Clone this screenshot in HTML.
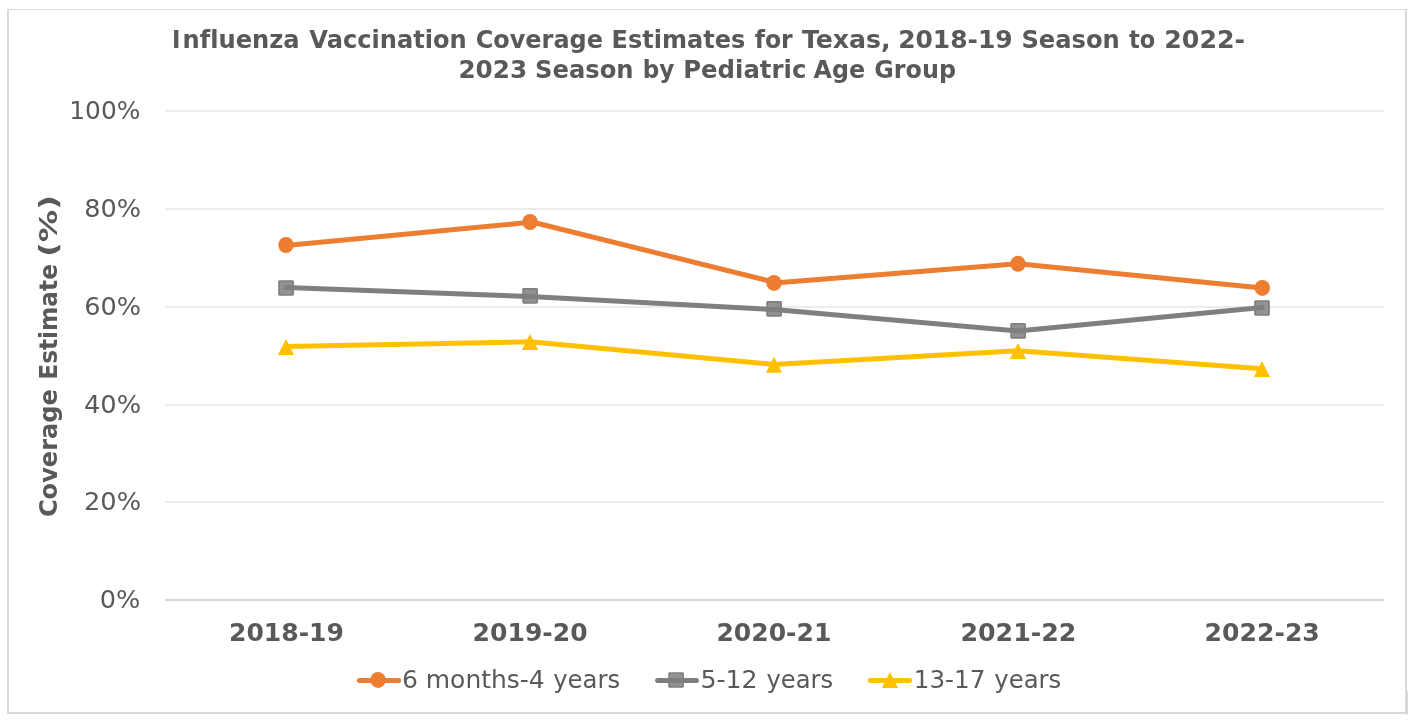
<!DOCTYPE html>
<html lang="en">
<head>
<meta charset="utf-8">
<title>Influenza Vaccination Coverage Estimates for Texas</title>
<style>
  html, body { margin: 0; padding: 0; background: #ffffff; }
  body { width: 1413px; height: 720px; overflow: hidden; }
  svg { display: block; }
  text { font-family: "DejaVu Sans", "Liberation Sans", sans-serif; fill: #595959; font-variant-ligatures: none; font-feature-settings: "liga" 0, "clig" 0; white-space: pre; }
  .b { font-weight: bold; }
</style>
</head>
<body>
<svg width="1413" height="720" viewBox="0 0 1413 720">
  <rect x="0" y="0" width="1413" height="720" fill="#ffffff"/>

  <!-- chart frame -->
  <g fill="#d9d9d9" shape-rendering="crispEdges">
    <rect x="7" y="9" width="1400" height="1"/>
    <rect x="7" y="9" width="2" height="705"/>
    <rect x="1405" y="9" width="2" height="705"/>
    <rect x="7" y="712" width="1400" height="2"/>
    <rect x="1407" y="691" width="1" height="24"/>
  </g>

  <!-- gridlines -->
  <g fill="#ececec" shape-rendering="crispEdges">
    <rect x="165" y="110" width="1219" height="2"/>
    <rect x="165" y="208" width="1219" height="2"/>
    <rect x="165" y="306" width="1219" height="2"/>
    <rect x="165" y="404" width="1219" height="2"/>
    <rect x="165" y="501" width="1219" height="2"/>
  </g>
  <rect x="165" y="599" width="1219" height="2" fill="#d6d6d6" shape-rendering="crispEdges"/>

  <!-- text: title, axis labels, legend labels -->
  <g font-size="24.6">
    <text class="b" y="48.0"><tspan x="172.00" textLength="8.44" lengthAdjust="spacingAndGlyphs">I</tspan><tspan x="182.47" textLength="117.21" lengthAdjust="spacingAndGlyphs">nfluenza</tspan> <tspan x="309.35" textLength="157.45" lengthAdjust="spacingAndGlyphs">Vaccination</tspan> <tspan x="475.70" textLength="127.25" lengthAdjust="spacingAndGlyphs">Coverage</tspan> <tspan x="611.53" textLength="133.73" lengthAdjust="spacingAndGlyphs">Estimates</tspan> <tspan x="754.66" textLength="37.98" lengthAdjust="spacingAndGlyphs">for</tspan> <tspan x="801.90" textLength="88.77" lengthAdjust="spacingAndGlyphs">Texas,</tspan> <tspan x="898.17" textLength="114.50" lengthAdjust="spacingAndGlyphs">2018-19</tspan> <tspan x="1021.42" textLength="98.41" lengthAdjust="spacingAndGlyphs">Season</tspan> <tspan x="1129.11" textLength="26.21" lengthAdjust="spacingAndGlyphs">to</tspan> <tspan x="1164.27" textLength="80.80" lengthAdjust="spacingAndGlyphs">2022-</tspan></text>
    <text class="b" y="77.9"><tspan x="458.40" textLength="68.81" lengthAdjust="spacingAndGlyphs">2023</tspan> <tspan x="535.02" textLength="98.51" lengthAdjust="spacingAndGlyphs">Season</tspan> <tspan x="642.63" textLength="31.68" lengthAdjust="spacingAndGlyphs">by</tspan> <tspan x="683.21" textLength="123.16" lengthAdjust="spacingAndGlyphs">Pediatric</tspan> <tspan x="813.55" textLength="51.63" lengthAdjust="spacingAndGlyphs">Age</tspan> <tspan x="874.20" textLength="81.81" lengthAdjust="spacingAndGlyphs">Group</tspan></text>
    <text y="119.2"><tspan x="69.27" textLength="71.12" lengthAdjust="spacingAndGlyphs">100%</tspan></text>
    <text y="217.2"><tspan x="84.31" textLength="56.76" lengthAdjust="spacingAndGlyphs">80%</tspan></text>
    <text y="315.1"><tspan x="84.31" textLength="56.76" lengthAdjust="spacingAndGlyphs">60%</tspan></text>
    <text y="413.2"><tspan x="84.03" textLength="57.13" lengthAdjust="spacingAndGlyphs">40%</tspan></text>
    <text y="510.4"><tspan x="84.06" textLength="57.03" lengthAdjust="spacingAndGlyphs">20%</tspan></text>
    <text y="608.3"><tspan x="99.80" textLength="40.58" lengthAdjust="spacingAndGlyphs">0%</tspan></text>
    <text class="b" y="641.0"><tspan x="228.97" textLength="114.95" lengthAdjust="spacingAndGlyphs">2018-19</tspan></text>
    <text class="b" y="641.0"><tspan x="472.63" textLength="114.98" lengthAdjust="spacingAndGlyphs">2019-20</tspan></text>
    <text class="b" y="641.0"><tspan x="716.42" textLength="114.95" lengthAdjust="spacingAndGlyphs">2020-21</tspan></text>
    <text class="b" y="641.0"><tspan x="960.46" textLength="115.98" lengthAdjust="spacingAndGlyphs">2021-22</tspan></text>
    <text class="b" y="641.0"><tspan x="1204.62" textLength="115.21" lengthAdjust="spacingAndGlyphs">2022-23</tspan></text>
    <text y="687.9"><tspan x="402.01" textLength="15.98" lengthAdjust="spacingAndGlyphs">6</tspan> <tspan x="425.81" textLength="118.97" lengthAdjust="spacingAndGlyphs">months-4</tspan> <tspan x="553.14" textLength="66.97" lengthAdjust="spacingAndGlyphs">years</tspan></text>
    <text y="687.9"><tspan x="700.45" textLength="57.22" lengthAdjust="spacingAndGlyphs">5-12</tspan> <tspan x="766.45" textLength="66.61" lengthAdjust="spacingAndGlyphs">years</tspan></text>
    <text y="687.9"><tspan x="913.78" textLength="71.58" lengthAdjust="spacingAndGlyphs">13-17</tspan> <tspan x="994.24" textLength="67.07" lengthAdjust="spacingAndGlyphs">years</tspan></text>
    <text class="b" transform="translate(57.0 0) rotate(-90)" y="0"><tspan x="-517.10" textLength="128.06" lengthAdjust="spacingAndGlyphs">Coverage</tspan> <tspan x="-379.78" textLength="115.74" lengthAdjust="spacingAndGlyphs">Estimate</tspan> <tspan x="-256.95" textLength="62.07" lengthAdjust="spacingAndGlyphs">(%)</tspan></text>
  </g>

  <!-- series: 13-17 years -->
  <polyline fill="none" stroke="#ffc000" stroke-width="5" stroke-linecap="round" stroke-linejoin="round"
    points="286,346.6 530,341.8 774,364.4 1018,350.7 1262,368.7"/>
  <g fill="#ffc000">
    <path d="M286 339 L294.1 355 H277.9 Z"/>
    <path d="M530 334.1 L538.1 350.1 H521.9 Z"/>
    <path d="M774 356.7 L782.1 372.7 H765.9 Z"/>
    <path d="M1018 343 L1026.1 359 H1009.9 Z"/>
    <path d="M1262 361 L1270.1 377 H1253.9 Z"/>
  </g>

  <!-- series: 5-12 years -->
  <g fill="#929292" stroke="#7f7f7f" stroke-width="1.7">
    <rect x="279.1" y="281" width="14" height="14" rx="0.6"/>
    <rect x="523.1" y="288.9" width="14" height="14" rx="0.6"/>
    <rect x="767.1" y="301.9" width="14" height="14" rx="0.6"/>
    <rect x="1011.1" y="323.8" width="14" height="14" rx="0.6"/>
    <rect x="1255" y="301" width="14" height="14" rx="0.6"/>
  </g>
  <polyline fill="none" stroke="#7f7f7f" stroke-width="5" stroke-linecap="round" stroke-linejoin="round"
    points="286.3,287.5 530,296.45 774,309.55 1018,331.1 1262,307.5"/>

  <!-- series: 6 months-4 years -->
  <g fill="none" stroke="#ed7d31" stroke-width="5" stroke-linecap="round" stroke-linejoin="round">
    <line x1="286" y1="245.5" x2="530" y2="222.3"/>
    <line x1="530" y1="221.5" x2="774" y2="282.1"/>
    <polyline points="774,282.9 1018,263.8 1262.3,287.9"/>
  </g>
  <g fill="#ed7d31">
    <ellipse cx="286" cy="245" rx="7.7" ry="8"/>
    <ellipse cx="530" cy="222" rx="7.7" ry="8"/>
    <ellipse cx="774" cy="282.9" rx="7.7" ry="8"/>
    <ellipse cx="1018" cy="263.8" rx="7.7" ry="8"/>
    <ellipse cx="1262.3" cy="287.9" rx="7.7" ry="8"/>
  </g>

  <!-- legend -->
  <g>
    <line x1="359.4" y1="680.4" x2="398.6" y2="680.4" stroke="#ed7d31" stroke-width="5" stroke-linecap="round"/>
    <ellipse cx="378.05" cy="679.9" rx="7.7" ry="8" fill="#ed7d31"/>

    <rect x="669.05" y="673" width="14" height="14" rx="0.6" fill="#929292" stroke="#7f7f7f" stroke-width="1.7"/>
    <line x1="657.6" y1="680.4" x2="696.4" y2="680.4" stroke="#7f7f7f" stroke-width="5" stroke-linecap="round"/>

    <line x1="870.4" y1="680.4" x2="909.6" y2="680.4" stroke="#ffc000" stroke-width="5" stroke-linecap="round"/>
    <path d="M889.95 671.9 L898.05 687.9 H881.85 Z" fill="#ffc000"/>
  </g>
</svg>
</body>
</html>
